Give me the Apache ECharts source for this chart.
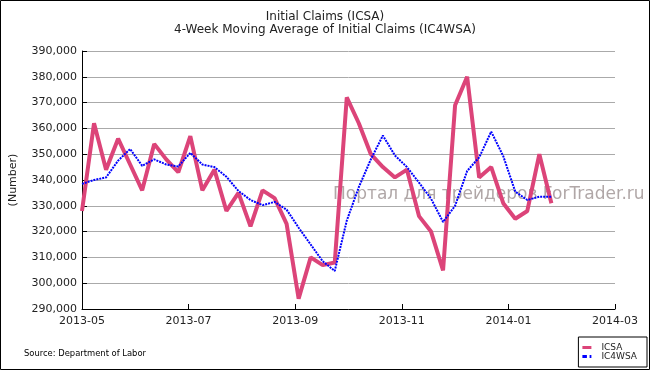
<!DOCTYPE html>
<html><head><meta charset="utf-8">
<script src="https://cdn.jsdelivr.net/npm/echarts@6/dist/echarts.min.js"></script>
<style>html,body{margin:0;padding:0;background:#fff}#c{width:650px;height:370px}</style>
</head><body><div id="c"></div>
<script>
const dates = ['2013-05-04','2013-05-11','2013-05-18','2013-05-25','2013-06-01','2013-06-08','2013-06-15','2013-06-22','2013-06-29',
'2013-07-06','2013-07-13','2013-07-20','2013-07-27','2013-08-03','2013-08-10','2013-08-17','2013-08-24','2013-08-31',
'2013-09-07','2013-09-14','2013-09-21','2013-09-28','2013-10-05','2013-10-12','2013-10-19','2013-10-26',
'2013-11-02','2013-11-09','2013-11-16','2013-11-23','2013-11-30','2013-12-07','2013-12-14','2013-12-21','2013-12-28',
'2014-01-04','2014-01-11','2014-01-18','2014-01-25','2014-02-01'];
const icsa = [328000,362000,344000,356000,346000,336000,354000,348000,343000,357000,336000,344000,328000,335000,322000,336000,333000,323000,
294000,310000,307000,308000,372000,362000,350000,345000,341000,344000,326000,320000,305000,369000,380000,341000,345000,331000,325000,328000,350000,331000];
const ic4wsa = [338500,340000,341000,347500,352000,345500,348000,346000,345250,350500,346000,345000,341250,335750,332250,330250,331500,328500,
321500,315000,308500,304750,324250,337250,348000,357250,349500,345000,339000,332750,323750,330000,343500,348750,358750,349250,335500,332250,333500,333500];
const xTickLabels = ['2013-05','2013-07','2013-09','2013-11','2014-01','2014-03'];
const titleLines = ['Initial Claims (ICSA)','4-Week Moving Average of Initial Claims (IC4WSA)'];

const t0 = Date.parse(dates[0]);
const dayOf = d => (Date.parse(d) - t0) / 86400000;
const FONT = 'DejaVu Sans';
const chart = echarts.init(document.getElementById('c'), null, {renderer:'canvas'});
chart.setOption({
  animation:false,
  backgroundColor:'#fff',
  textStyle:{fontFamily:FONT},
  title:{text:titleLines.join('\n'), left:'center', top:5,
    textStyle:{fontFamily:FONT, fontSize:12, fontWeight:'normal', color:'#222', lineHeight:13}},
  grid:{left:82, right:35, top:51, bottom:61, containLabel:false},
  xAxis:{type:'value', min:0, max:310, interval:62,
    axisLine:{lineStyle:{color:'#000', width:1}},
    axisTick:{inside:true, length:5, lineStyle:{color:'#000'}},
    axisLabel:{color:'#222', fontFamily:FONT, fontSize:11, margin:7,
      formatter:v => xTickLabels[Math.round(v/62)] || ''},
    splitLine:{show:false}},
  yAxis:{type:'value', min:290000, max:390000, interval:10000,
    name:'(Number)', nameLocation:'middle', nameGap:63, nameRotate:90,
    nameTextStyle:{color:'#222', fontFamily:FONT, fontSize:11},
    axisLine:{show:true, lineStyle:{color:'#000', width:1}},
    axisTick:{inside:true, length:5, lineStyle:{color:'#000'}},
    axisLabel:{color:'#222', fontFamily:FONT, fontSize:11, margin:5,
      formatter:v => v.toLocaleString('en-US')},
    splitLine:{lineStyle:{color:'#aaaaaa', width:1}}},
  legend:{orient:'vertical', right:3, bottom:3, backgroundColor:'#fff',
    borderColor:'#000', borderWidth:1, borderRadius:0, padding:[6,10,6,4], itemGap:0,
    itemWidth:9, itemHeight:3, symbolKeepAspect:false,
    textStyle:{fontFamily:FONT, fontSize:9, color:'#222', padding:[0,0,0,5]},
    data:[{name:'ICSA', icon:'path://M0,0H10V3H0Z'},
          {name:'IC4WSA', icon:'path://M0,0H5V3H0Z M8,0H10V3H8Z'}]},
  graphic:[
    {type:'text', left:333, top:186, z:0, silent:true,
      style:{text:'Портал для трейдеров ForTrader.ru', font:'17px "DejaVu Sans"', fill:'rgba(150,138,138,0.75)'}},
    {type:'text', left:24, top:350, style:{text:'Source: Department of Labor', font:'8.4px "DejaVu Sans"', fill:'#000'}},
    {type:'rect', shape:{x:0.5, y:0.5, width:649, height:369}, style:{fill:'none', stroke:'#000', lineWidth:1}, z:100}
  ],
  series:[
    {name:'ICSA', type:'line', data:dates.map((d,i)=>[dayOf(d), icsa[i]]), showSymbol:false, symbol:'none',
      lineStyle:{color:'#dc4479', width:4}, itemStyle:{color:'#dc4479'}, z:3},
    {name:'IC4WSA', type:'line', data:dates.map((d,i)=>[dayOf(d), ic4wsa[i]]), showSymbol:false, symbol:'none',
      lineStyle:{color:'#0000ff', width:2, type:[2,1]}, itemStyle:{color:'#0000ff'}, z:4}
  ]
});
</script></body></html>
